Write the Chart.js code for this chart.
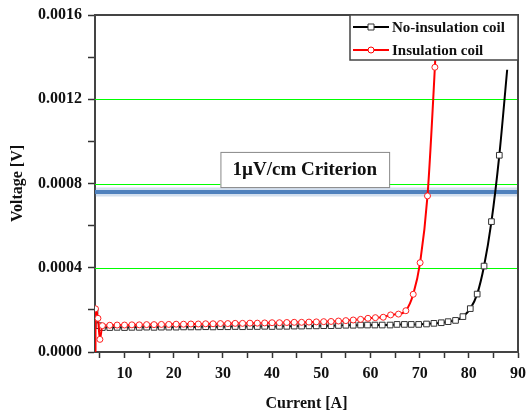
<!DOCTYPE html>
<html>
<head>
<meta charset="utf-8">
<script src="https://cdn.jsdelivr.net/npm/chart.js@4/dist/chart.umd.min.js"></script>
<style>
  html, body { margin: 0; padding: 0; background: #fff; }
  #wrap { width: 528px; height: 414px; }
</style>
</head>
<body>
<div id="wrap"><canvas id="myChart" width="528" height="414"></canvas></div>
<script>
// No-insulation coil (black squares)
const noInsCurrent = [4.0, 4.8, 5.5,
  7, 8.5, 10, 11.5, 13, 14.5, 16, 17.5, 19,
  20.5, 22, 23.5, 25, 26.5, 28, 29.5, 31, 32.5, 34,
  35.5, 37, 38.5, 40, 41.5, 43, 44.5, 46, 47.5, 49, 50.5, 52, 53.5, 55, 56.5,
  58.0, 59.4, 60.9, 62.4, 64.0, 65.4, 66.9, 68.3, 69.8, 71.4, 72.9, 74.4, 75.8, 77.3, 78.8, 80.3, 81.7, 83.1, 84.6, 86.2, 87.8];
const noInsVoltage = [0.000195, 0.000125, 0.000116,
  0.000116, 0.000117, 0.000116, 0.000117, 0.000117, 0.000118, 0.000117, 0.000118, 0.000118,
  0.000118, 0.000119, 0.000119, 0.000119, 0.000120, 0.000119, 0.000120, 0.000120, 0.000121, 0.000120,
  0.000121, 0.000121, 0.000122, 0.000121, 0.000122, 0.000122, 0.000123, 0.000123, 0.000124, 0.000124, 0.000125, 0.000125, 0.000126, 0.000127, 0.000127,
  0.000128, 0.000128, 0.000128, 0.000128, 0.000128, 0.000131, 0.000131, 0.000131, 0.000131, 0.000133, 0.000136, 0.000139, 0.000144, 0.000150, 0.000168, 0.000206, 0.000275, 0.000408, 0.000619, 0.000934, 0.001340];

// Insulation coil (red circles)
const insCurrent = [4.1, 4.1, 4.6, 5.0, 5.5,
  7, 8.5, 10, 11.5, 13, 14.5, 16, 17.5, 19,
  20.5, 22, 23.5, 25, 26.5, 28, 29.5, 31, 32.5, 34,
  35.5, 37, 38.5, 40, 41.5, 43, 44.5, 46, 47.5, 49, 50.5, 52, 53.5, 55, 56.5,
  58.0, 59.5, 61.0, 62.6, 64.1, 65.7, 67.2, 68.7, 70.1, 71.6, 73.1, 73.4];
const insVoltage = [0, 0.000205, 0.000160, 0.000060, 0.000125,
  0.000127, 0.000128, 0.000128, 0.000129, 0.000129, 0.000130, 0.000130, 0.000131, 0.000131,
  0.000132, 0.000132, 0.000133, 0.000133, 0.000134, 0.000134, 0.000135, 0.000135, 0.000136, 0.000136,
  0.000137, 0.000137, 0.000138, 0.000139, 0.000139, 0.000140, 0.000141, 0.000141, 0.000142, 0.000143, 0.000144, 0.000145, 0.000147, 0.000149, 0.000152,
  0.000155, 0.000160, 0.000163, 0.000165, 0.000176, 0.000180, 0.000196, 0.000274, 0.000424, 0.000741, 0.001352, 0.001500];

// 1uV/cm criterion line
const criterionCurrent = [4, 90];
const criterionVoltage = [0.00076, 0.00076];

const xTicks = [5, 10, 15, 20, 25, 30, 35, 40, 45, 50, 55, 60, 65, 70, 75, 80, 85, 90];
const yTicks = [0, 0.0002, 0.0004, 0.0006, 0.0008, 0.0010, 0.0012, 0.0014, 0.0016];
const yGreenLines = [0.0004, 0.0008, 0.0012];

const seriesNames = ["No-insulation coil", "Insulation coil"];
const criterionText = "1\u00b5V/cm Criterion";

function pts(xs, ys) { return xs.map((x, i) => ({ x: x, y: ys[i] })); }

const FONT = "'Liberation Serif', 'Times New Roman', serif";

const framePlugin = {
  id: "frame",
  beforeDatasetsDraw(chart) {
    // green horizontal guide lines
    const c = chart.ctx, a = chart.chartArea, ys = chart.scales.y;
    c.save();
    c.strokeStyle = "#00ff00";
    c.lineWidth = 1;
    yGreenLines.forEach(v => {
      const py = Math.round(ys.getPixelForValue(v)) + 0.5;
      c.beginPath();
      c.moveTo(a.left, py);
      c.lineTo(a.right, py);
      c.stroke();
    });
    c.restore();
  },
  afterDatasetsDraw(chart) {
    const c = chart.ctx, a = chart.chartArea;
    const xs = chart.scales.x, ys = chart.scales.y;
    c.save();
    // top and right border
    c.strokeStyle = "#444";
    c.lineWidth = 2;
    c.beginPath();
    c.moveTo(a.left, a.top);
    c.lineTo(a.right, a.top);
    c.lineTo(a.right, a.bottom);
    c.stroke();

    // criterion label box
    const bx1 = xs.getPixelForValue(29.5), bx2 = xs.getPixelForValue(63.8);
    const by1 = ys.getPixelForValue(0.000950), by2 = ys.getPixelForValue(0.000783);
    c.fillStyle = "#fff";
    c.fillRect(bx1, by1, bx2 - bx1, by2 - by1);
    c.strokeStyle = "#888";
    c.lineWidth = 1;
    c.strokeRect(bx1 + 0.5, by1 + 0.5, bx2 - bx1, by2 - by1);
    c.fillStyle = "#111";
    c.font = "bold 19px " + FONT;
    c.textAlign = "center";
    c.textBaseline = "middle";
    c.fillText(criterionText, (bx1 + bx2) / 2, (by1 + by2) / 2 + 1);

    // legend
    const lx1 = 350, lx2 = a.right, ly1 = a.top, ly2 = 60;
    c.fillStyle = "#fff";
    c.fillRect(lx1, ly1, lx2 - lx1, ly2 - ly1);
    c.strokeStyle = "#444";
    c.lineWidth = 1.5;
    c.strokeRect(lx1, ly1, lx2 - lx1, ly2 - ly1);
    const rows = [
      { y: 27, color: "#000", edge: "#333", style: "rect" },
      { y: 50, color: "#ff0000", edge: "#ff0000", style: "circle" }
    ];
    rows.forEach((row, i) => {
      c.strokeStyle = row.color;
      c.lineWidth = 2;
      c.beginPath();
      c.moveTo(353, row.y);
      c.lineTo(389, row.y);
      c.stroke();
      c.fillStyle = "#fff";
      c.strokeStyle = row.edge;
      c.lineWidth = 1;
      c.beginPath();
      if (row.style === "rect") {
        c.rect(368, row.y - 3, 6, 6);
      } else {
        c.arc(371, row.y, 3, 0, Math.PI * 2);
      }
      c.fill();
      c.stroke();
      c.fillStyle = "#111";
      c.font = "bold 15px " + FONT;
      c.textAlign = "left";
      c.textBaseline = "middle";
      c.fillText(seriesNames[i], 392, row.y + 1);
    });
    c.restore();
  }
};

const ctx = document.getElementById("myChart");
new Chart(ctx, {
  type: "line",
  data: {
    datasets: [
      {
        label: seriesNames[0],
        data: pts(noInsCurrent, noInsVoltage),
        borderColor: "#000",
        borderWidth: 2,
        pointStyle: "rect",
        pointRadius: c => c.dataIndex === noInsCurrent.length - 1 ? 0 : 4,
        pointBackgroundColor: "#fff",
        pointBorderColor: "#333",
        pointBorderWidth: 1,
        cubicInterpolationMode: "monotone",
        order: 2
      },
      {
        label: seriesNames[1],
        data: pts(insCurrent, insVoltage),
        borderColor: "#ff0000",
        borderWidth: 2,
        pointStyle: "circle",
        pointRadius: c => (c.dataIndex === 0 || c.dataIndex === insCurrent.length - 1) ? 0 : 3,
        pointBackgroundColor: "#fff",
        pointBorderColor: "#ff2020",
        pointBorderWidth: 1,
        cubicInterpolationMode: "monotone",
        order: 1
      },
      {
        label: "criterion",
        data: pts(criterionCurrent, criterionVoltage),
        borderColor: "#4f81bd",
        borderWidth: 4,
        pointRadius: 0,
        order: 3
      },
      {
        label: "criterion glow",
        data: pts(criterionCurrent, criterionVoltage),
        borderColor: "rgba(79,129,189,0.25)",
        borderWidth: 9,
        pointRadius: 0,
        order: 4
      }
    ]
  },
  options: {
    animation: false,
    responsive: false,
    events: [],
    layout: { padding: { top: 15, right: 10, left: 0, bottom: 0 } },
    plugins: {
      legend: { display: false },
      tooltip: { enabled: false }
    },
    scales: {
      x: {
        type: "linear",
        min: 4,
        max: 90,
        afterBuildTicks: s => { s.ticks = xTicks.map(v => ({ value: v })); },
        afterFit: s => { s.height = 62; s.paddingRight = 0; s.paddingLeft = 0; },
        border: { color: "#444", width: 2 },
        grid: { drawOnChartArea: false, tickColor: "#333", tickLength: 6, tickWidth: 1.5 },
        ticks: {
          padding: 6,
          maxRotation: 0,
          autoSkip: false,
          color: "#111",
          font: { family: FONT, size: 16, weight: "bold" },
          callback: v => (v % 10 === 0 ? String(v) : "")
        },
        title: {
          display: true,
          text: "Current [A]",
          color: "#111",
          padding: { top: 0, bottom: 1 },
          font: { family: FONT, size: 16, weight: "bold" }
        }
      },
      y: {
        type: "linear",
        min: 0,
        max: 0.0016,
        afterBuildTicks: s => { s.ticks = yTicks.map(v => ({ value: v })); },
        afterFit: s => { s.width = 95; s.paddingTop = 0; s.paddingBottom = 0; },
        border: { color: "#444", width: 2 },
        grid: {
          drawOnChartArea: false,
          tickColor: "#333",
          tickLength: 7,
          tickWidth: 1.5
        },
        ticks: {
          padding: 6,
          autoSkip: false,
          color: "#111",
          font: { family: FONT, size: 16, weight: "bold" },
          callback: (v, i) => (i % 2 === 0 ? v.toFixed(4) : "")
        },
        title: {
          display: true,
          text: "Voltage [V]",
          color: "#111",
          padding: { top: 8, bottom: 0 },
          font: { family: FONT, size: 16, weight: "bold" }
        }
      }
    }
  },
  plugins: [framePlugin]
});
</script>
</body>
</html>
